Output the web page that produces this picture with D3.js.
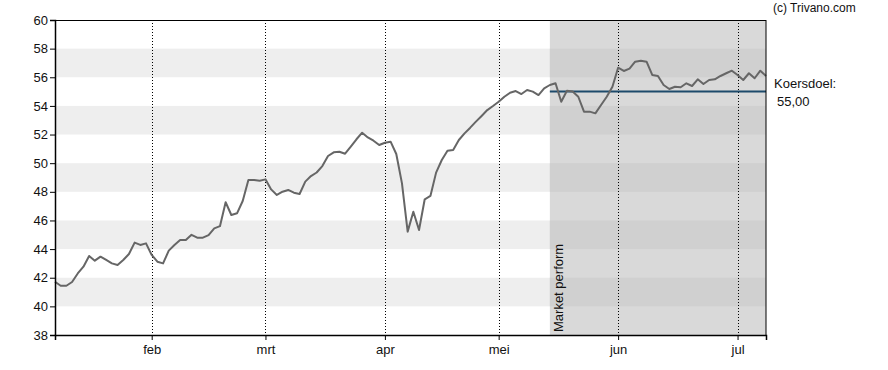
<!DOCTYPE html>
<html><head><meta charset="utf-8">
<script src="https://cdn.jsdelivr.net/npm/d3@7"></script>
<style>
html,body{margin:0;padding:0;background:#fff;}
svg{display:block;font-family:"Liberation Sans", Arial, sans-serif;}
</style></head>
<body>
<svg id="c" width="888" height="370"></svg>
<script>
// Closing prices per trading day (index 0 = early January)
const prices = [
41.72,41.44,41.44,41.70,42.30,42.77,43.52,43.19,43.47,43.24,
43.00,42.89,43.24,43.66,44.45,44.29,44.40,43.59,43.12,43.00,
43.89,44.29,44.63,44.63,45.00,44.80,44.80,44.98,45.45,45.60,
47.27,46.38,46.50,47.36,48.83,48.83,48.78,48.87,48.17,47.78,
48.01,48.13,47.94,47.85,48.71,49.10,49.35,49.80,50.50,50.76,
50.80,50.66,51.15,51.67,52.13,51.80,51.57,51.27,51.43,51.50,
50.64,48.59,45.22,46.61,45.33,47.48,47.71,49.34,50.22,50.87,
50.92,51.62,52.08,52.48,52.90,53.30,53.71,53.99,54.29,54.64,
54.92,55.04,54.83,55.11,55.00,54.76,55.23,55.46,55.58,54.29,
55.06,55.00,54.64,53.60,53.60,53.48,54.06,54.64,55.34,56.67,
56.44,56.60,57.09,57.16,57.09,56.16,56.09,55.46,55.18,55.34,
55.30,55.58,55.39,55.86,55.53,55.81,55.86,56.09,56.28,56.46,
56.16,55.81,56.28,55.93,56.46,56.09
];
const monthLabels = ["feb","mrt","apr","mei","jun","jul"];
const monthIndex  = [17, 37, 58, 78, 99, 120];   // first trading day of each month
const yTicks = [38,40,42,44,46,48,50,52,54,56,58,60];
const bandRanges = [[40,42],[44,46],[48,50],[52,54],[56,58]];
const ratingStart = 87;            // index where "Market perform" rating starts
const ratingLabel = "Market perform";
const targetPrice = 55.00;
const targetLabel = ["Koersdoel:", "55,00"];
const credit = "(c) Trivano.com";

const svg = d3.select("#c");
const L = 55, R = 766, T = 20, B = 335;
const x = d3.scaleLinear().domain([0, prices.length - 1]).range([L, R]);
const y = d3.scaleLinear().domain([38, 60]).range([B, T]);

// white-area bands
svg.append("g").selectAll("rect").data(bandRanges).join("rect")
  .attr("x", L).attr("width", R - L)
  .attr("y", d => y(d[1])).attr("height", d => y(d[0]) - y(d[1]))
  .attr("fill", "#eeeeee");

// rating shaded area
const xs = x(ratingStart);
svg.append("rect").attr("x", xs).attr("y", T).attr("width", R - xs).attr("height", B - T)
  .attr("fill", "#d9d9d9");
svg.append("g").selectAll("rect").data(bandRanges).join("rect")
  .attr("x", xs).attr("width", R - xs)
  .attr("y", d => y(d[1])).attr("height", d => y(d[0]) - y(d[1]))
  .attr("fill", "#d0d0d0");

// vertical dotted month lines
svg.append("g").selectAll("line").data(monthIndex).join("line")
  .attr("x1", d => Math.round(x(d)) + 0.5).attr("x2", d => Math.round(x(d)) + 0.5)
  .attr("y1", T).attr("y2", B)
  .attr("stroke", "#000").attr("stroke-width", 1).attr("stroke-dasharray", "1,2");

// rating label
svg.append("text")
  .attr("transform", `translate(${xs + 13},${B - 3}) rotate(-90)`)
  .attr("font-size", 13).attr("fill", "#111").text(ratingLabel);

// target line
svg.append("line").attr("x1", xs).attr("x2", R)
  .attr("y1", y(targetPrice)).attr("y2", y(targetPrice))
  .attr("stroke", "#1d4a6b").attr("stroke-width", 2);

// price line
svg.append("path").datum(prices)
  .attr("d", d3.line().x((d, i) => x(i)).y(d => y(d)))
  .attr("fill", "none").attr("stroke", "#666").attr("stroke-width", 2)
  .attr("stroke-linejoin", "round");

// frame
svg.append("rect").attr("x", L + 0.5).attr("y", T + 0.5).attr("width", R - L - 0.5).attr("height", B - T)
  .attr("fill", "none").attr("stroke", "#000").attr("stroke-width", 1);

// y axis
const ya = svg.append("g").attr("transform", `translate(${L},0)`)
  .call(d3.axisLeft(y).tickValues(yTicks).tickSize(5).tickPadding(2).tickFormat(d3.format("d")));
ya.select(".domain").attr("stroke", "#000").attr("stroke-width", 1.5);
ya.selectAll("text").attr("font-size", 13).attr("fill", "#111").attr("font-family", "Liberation Sans, Arial, sans-serif");

// x axis
const xa = svg.append("g").attr("transform", `translate(0,${B})`)
  .call(d3.axisBottom(x).tickValues(monthIndex).tickSize(5).tickPadding(5)
    .tickFormat((d, i) => monthLabels[i]));
xa.select(".domain").attr("stroke", "#000").attr("stroke-width", 1.5);
xa.selectAll("text").attr("font-size", 13).attr("fill", "#111").attr("font-family", "Liberation Sans, Arial, sans-serif");

// target label
svg.append("text").attr("x", 774).attr("y", 88).attr("font-size", 13).attr("fill", "#111").text(targetLabel[0]);
svg.append("text").attr("x", 777).attr("y", 106).attr("font-size", 13).attr("fill", "#111").text(targetLabel[1]);

// credit
svg.append("text").attr("x", 773).attr("y", 12).attr("font-size", 12).attr("fill", "#111").text(credit);
</script>
</body></html>
